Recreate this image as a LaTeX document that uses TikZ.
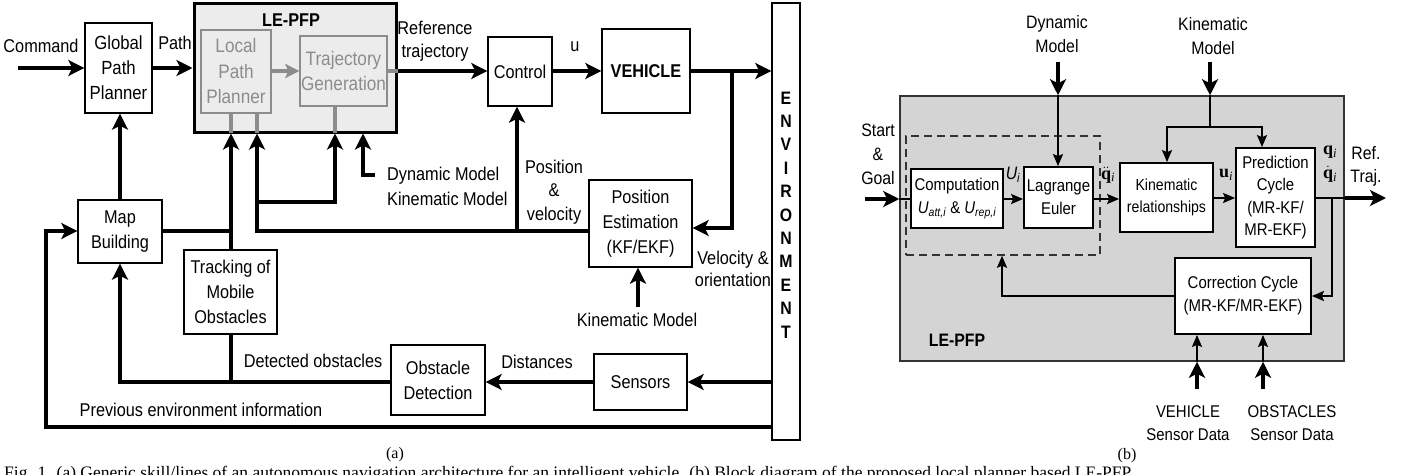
\documentclass[tikz,border=0pt]{standalone}
\usepackage{fontspec}
\setmainfont[FakeStretch=0.88]{Liberation Sans}
\newfontfamily\timesf{Liberation Serif}
\usetikzlibrary{arrows.meta}
\definecolor{legray}{gray}{0.925}
\definecolor{bgray}{gray}{0.83}
\definecolor{txtgray}{gray}{0.55}
\tikzset{
 fa/.style={font=\fontsize{18.5}{25}\selectfont},
 fb/.style={font=\fontsize{17}{23}\selectfont},
 boxa/.style={draw, line width=1.4pt, fill=white, inner sep=0pt, align=center, fa},
 boxb/.style={draw, line width=1.8pt, fill=white, inner sep=0pt, align=center, fb},
 lbl/.style={inner sep=0pt, align=center, fa},
 lblb/.style={inner sep=0pt, align=center, fb},
 thk/.style={line width=4.5pt, line join=miter, -{Stealth[length=16pt,width=16pt,inset=4pt]}},
 thkline/.style={line width=4.5pt, line join=miter},
 thn/.style={line width=1.8pt, line join=miter, -{Stealth[length=12pt,width=10pt,inset=2pt]}},
 thnline/.style={line width=1.8pt, line join=miter},
 gstub/.style={line width=4pt, draw=txtgray},
 qlbl/.style={inner sep=0pt, font=\timesf\fontsize{18}{20}\selectfont},
}
\begin{document}
\begin{tikzpicture}[x=1pt,y=-1pt]
\useasboundingbox (0,0) rectangle (1403,474);
% ---------------- (a) ----------------
\node[boxa, minimum width=67pt, minimum height=90pt, font=\fontsize{19}{25}\selectfont] (gpp) at (118.5,68) {Global\\Path\\Planner};
\node[draw, line width=3pt, fill=legray, minimum width=202pt, minimum height=129pt, inner sep=0pt] (le) at (295,67.5) {};
\node[inner sep=0pt, font=\bfseries\fontsize{18.5}{20}\selectfont] (letitle) at (291,20) {LE-PFP};
\node[boxa, draw=txtgray, fill=legray, text=txtgray, minimum width=70pt, minimum height=83pt, font=\fontsize{19.5}{25.5}\selectfont] (lpp) at (236,71.5) {Local\\Path\\Planner};
\node[boxa, draw=txtgray, fill=legray, text=txtgray, minimum width=87pt, minimum height=70pt, font=\fontsize{19.5}{25}\selectfont] (tg) at (343.5,71) {Trajectory\\Generation};
\node[boxa, minimum width=64pt, minimum height=69pt] (ctrl) at (520,71.5) {Control};
\node[boxa, minimum width=88pt, minimum height=84pt, font=\bfseries\fontsize{18.5}{25}\selectfont] (veh) at (646,71) {VEHICLE};
\node[boxa, minimum width=28pt, minimum height=437pt] (env) at (786,221.5) {};
\node[inner sep=0pt, align=center, font=\bfseries\fontsize{18}{23.4}\selectfont] (envtxt) at (786,215) {E\\N\\V\\I\\R\\O\\N\\M\\E\\N\\T};
\node[boxa, minimum width=103pt, minimum height=87pt] (pe) at (640.5,223.5) {Position\\Estimation\\(KF/EKF)};
\node[boxa, minimum width=84pt, minimum height=63pt] (mb) at (120,231.5) {Map\\Building};
\node[boxa, minimum width=93pt, minimum height=84pt] (tr) at (230.5,292) {Tracking of\\Mobile\\Obstacles};
\node[boxa, minimum width=94pt, minimum height=70pt] (od) at (438,380) {Obstacle\\Detection};
\node[boxa, minimum width=93pt, minimum height=56pt] (sen) at (640.5,382) {Sensors};

\node[lbl] (lcmd) at (41,46) {Command};
\node[lbl] (lpath) at (175,43) {Path};
\node[lbl, font=\fontsize{18.5}{23}\selectfont] (lref) at (435,41.5) {Reference\\trajectory};
\node[lbl] (lu) at (575,47) {u};
\node[lbl, align=left, anchor=west, font=\fontsize{18.5}{25}\selectfont] (ldk) at (387,186) {Dynamic Model\\Kinematic Model};
\node[lbl, font=\fontsize{18.5}{23.5}\selectfont] (lpv) at (554,192) {Position\\\&\\velocity};
\node[lbl, font=\fontsize{18.5}{22}\selectfont] (lvo) at (733,269) {Velocity \&\\orientation};
\node[lbl] (lkm) at (637,320) {Kinematic Model};
\node[lbl] (ldist) at (537,362) {Distances};
\node[lbl] (ldet) at (313,361) {Detected obstacles};
\node[lbl] (lprev) at (201,410) {Previous environment information};

\coordinate (cmdst) at (18,68);
\coordinate (dynst) at (375,175);
\coordinate (kmst) at (638,307);

% connectors (a)
\draw[thk] (cmdst) -- (gpp.west |- cmdst);
\draw[thk] (gpp.east |- cmdst) -- (le.west |- cmdst);
\draw[gstub, -{Stealth[length=14pt,width=14pt,inset=3pt]}] (lpp.east |- 0,71) -- (tg.west |- 0,71);
\draw[gstub] (tg.east |- 0,71) -- (le.east |- 0,71);
\draw[thk] (le.east |- 0,71) -- (ctrl.west |- 0,71);
\draw[thk] (ctrl.east |- 0,71) -- (veh.west |- 0,71);
\draw[thk] (veh.east |- 0,71) -- (env.west |- 0,71);
\draw[thk] (732,71) -- (732,228) -- (pe.east |- 0,228);
\draw[thk] (env.west |- 0,382) -- (sen.east |- 0,382);
\draw[thk] (sen.west |- 0,382) -- (od.east |- 0,382);
\draw[thk] (od.west |- 0,382) -- (120,382) -- (mb.south -| 120,0);
\draw[thkline] (231,382) -- (tr.south -| 231,0);
\draw[gstub] (231,113) -- (231,133);
\draw[gstub] (257,113) -- (257,133);
\draw[gstub] (335,106) -- (335,133);
\draw[thk] (tr.north -| 231,0) -- (le.south -| 231,0);
\draw[thkline] (mb.east |- 0,231) -- (231,231);
\draw[thk] (mb.north -| 120,0) -- (gpp.south -| 120,0);
\draw[thk] (env.west |- 0,427) -- (46,427) -- (46,231) -- (mb.west |- 0,231);
\draw[thk] (pe.west |- 0,231) -- (257,231) -- (le.south -| 257,0);
\draw[thk] (257,202) -- (335,202) -- (le.south -| 335,0);
\draw[thk] (517,231) -- (ctrl.south -| 517,0);
\draw[thk] (dynst) -- (363,175) -- (le.south -| 363,0);
\draw[thk] (kmst) -- (pe.south -| 638,0);

% ---------------- (b) ----------------
\node[draw=black!80, line width=1.5pt, fill=bgray, minimum width=444pt, minimum height=265pt, inner sep=0pt] (gb) at (1122,228.5) {};
\node[draw=black!80, line width=1.5pt, dash pattern=on 8pt off 5pt, minimum width=194pt, minimum height=119pt, inner sep=0pt] (dash) at (1003,195.5) {};
\node[boxb, minimum width=92pt, minimum height=59pt] (comp) at (957,198.5) {Computation\\{\itshape U}\textsubscript{\itshape att,i} \& {\itshape U}\textsubscript{\itshape rep,i}};
\node[boxb, minimum width=69pt, minimum height=61pt] (lag) at (1058.5,197.5) {Lagrange\\Euler};
\node[boxb, minimum width=93pt, minimum height=69pt, font=\fontsize{16}{22.5}\selectfont] (kr) at (1166.5,197.5) {Kinematic\\relationships};
\node[boxb, minimum width=79pt, minimum height=99pt, font=\fontsize{17}{22.5}\selectfont] (pred) at (1275.5,197.5) {Prediction\\Cycle\\(MR-KF/\\MR-EKF)};
\node[boxb, minimum width=136pt, minimum height=76pt] (corr) at (1243,296) {Correction Cycle\\(MR-KF/MR-EKF)};
\node[inner sep=0pt, font=\bfseries\fontsize{18}{20}\selectfont] (lepfpb) at (957,340) {LE-PFP};

\node[lblb, font=\fontsize{18}{24}\selectfont] (lsg) at (878,154) {Start\\\&\\Goal};
\node[lblb, font=\fontsize{18}{24.5}\selectfont] (ldyn) at (1057,34) {Dynamic\\Model};
\node[lblb, font=\fontsize{18}{24.5}\selectfont] (lkin) at (1213,36) {Kinematic\\Model};
\node[lblb, font=\fontsize{18}{23}\selectfont] (lref2) at (1366,166) {Ref.\\Traj.};
\node[lblb, font=\fontsize{17}{23}\selectfont] (lvs) at (1188,423) {VEHICLE\\Sensor Data};
\node[lblb, font=\fontsize{17}{23}\selectfont] (los) at (1292,423) {OBSTACLES\\Sensor Data};
\node[inner sep=0pt, font=\fontsize{18}{20}\selectfont] (lui) at (1013,175) {{\itshape U}\textsubscript{\itshape i}};
\node[qlbl] (lqdd) at (1108,175) {$\ddot{\hbox{\timesf\bfseries q}}$\textsubscript{\itshape i}};
\node[qlbl] (lu2) at (1226,175) {{\bfseries u}\textsubscript{\itshape i}};
\node[qlbl, align=center, font=\timesf\fontsize{18}{24}\selectfont] (lqq) at (1330,164) {{\bfseries q}\textsubscript{\itshape i}\\$\dot{\hbox{\timesf\bfseries q}}$\textsubscript{\itshape i}};

\coordinate (sgst) at (865,199);
\coordinate (dynb) at (1058,62);
\coordinate (kinb) at (1210,62);
\coordinate (vsb) at (1197,389);
\coordinate (osb) at (1263,389);
\coordinate (refend) at (1386,198);

\draw[thk] (sgst) -- (gb.west |- sgst);
\draw[thnline] (gb.west |- sgst) -- (comp.west |- sgst);
\draw[thn] (comp.east |- 0,199) -- (lag.west |- 0,199);
\draw[thk] (dynb) -- (gb.north -| dynb);
\draw[thn] (gb.north -| dynb) -- (lag.north -| dynb);
\draw[thn] (lag.east |- 0,199) -- (kr.west |- 0,199);
\draw[thk] (kinb) -- (gb.north -| kinb);
\draw[thnline] (gb.north -| kinb) -- (1210,127);
\draw[thn] (1167,127) -- (kr.north -| 1167,0);
\draw[thnline] (1166,127) -- (1263,127);
\draw[thn] (1262,127) -- (pred.north -| 1262,0);
\draw[thn] (kr.east |- 0,198) -- (pred.west |- 0,198);
\draw[line width=2.5pt] (pred.east |- 0,198) -- (gb.east |- 0,198);
\draw[thk] (gb.east |- 0,198) -- (refend);
\draw[thn] (1332,198) -- (1332,296) -- (corr.east |- 0,296);
\draw[thn] (corr.west |- 0,296) -- (1002,296) -- (dash.south -| 1002,0);
\draw[thk] (vsb) -- (gb.south -| vsb);
\draw[thn] (gb.south -| vsb) -- (corr.south -| vsb);
\draw[thk] (osb) -- (gb.south -| osb);
\draw[thn] (gb.south -| osb) -- (corr.south -| osb);

% captions
\node[inner sep=0pt, font=\timesf\fontsize{16}{16}\selectfont] (capa) at (395,455) {(a)};
\node[inner sep=0pt, font=\timesf\fontsize{16}{16}\selectfont] (capb) at (1127,456) {(b)};
\node[inner sep=0pt, anchor=base west, font=\timesf\fontsize{17.5}{17.5}\selectfont] (cap) at (4,478) {Fig. 1. (a) Generic skill/lines of an autonomous navigation architecture for an intelligent vehicle. (b) Block diagram of the proposed local planner based LE-PFP.};
\end{tikzpicture}
\end{document}
